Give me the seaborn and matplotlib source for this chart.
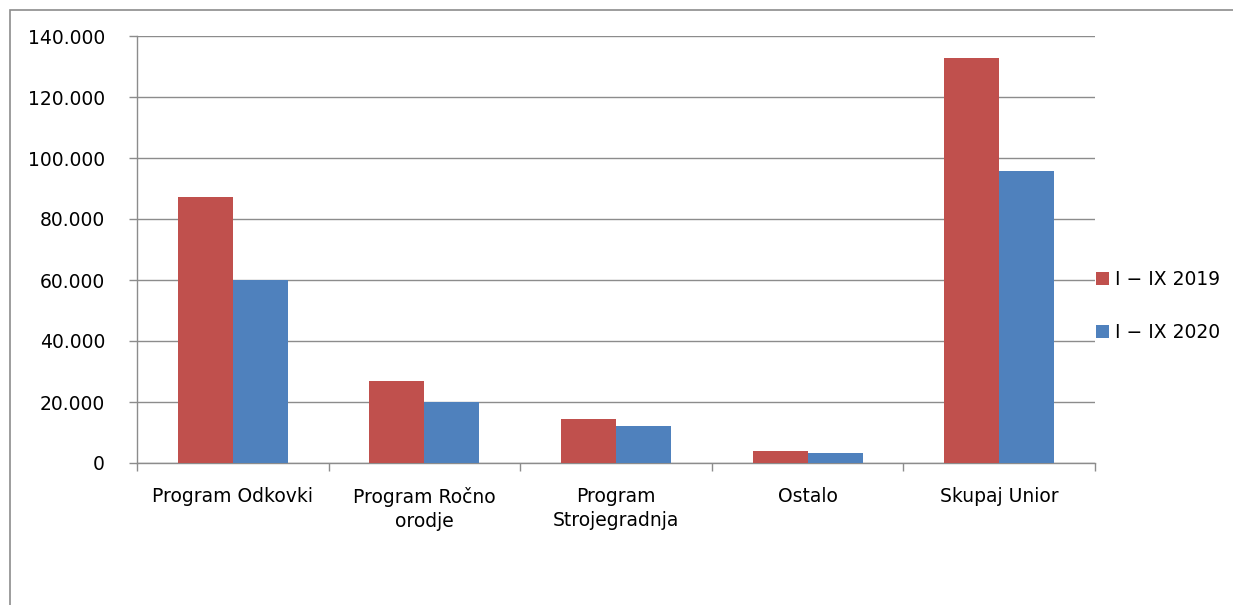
import pandas as pd
import matplotlib.pyplot as plt
import seaborn as sns
from matplotlib.patches import Rectangle
from matplotlib.ticker import FuncFormatter, FixedLocator

# Categories and values
categories = ['Program Odkovki', 'Program Ročno\norodje', 'Program\nStrojegradnja', 'Ostalo', 'Skupaj Unior']
series_names = ['I − IX 2019', 'I − IX 2020']
values_2019 = [87200, 26900, 14400, 3900, 132800]
values_2020 = [60000, 20000, 12100, 3300, 95700]
colors = ['#C0504D', '#4F81BD']

df = pd.DataFrame({
    'Kategorija': categories * 2,
    'Obdobje': [series_names[0]] * 5 + [series_names[1]] * 5,
    'Vrednost': values_2019 + values_2020,
})

sns.set_theme(style='white')
plt.rcParams['font.family'] = ['DejaVu Sans']
plt.rcParams['text.color'] = 'black'

W, H = 1233, 605
fig = plt.figure(figsize=(W / 100, H / 100), dpi=100)
ax = fig.add_axes([137 / W, 1 - 463 / H, (1095 - 137) / W, (463 - 36) / H])

sns.barplot(data=df, x='Kategorija', y='Vrednost', hue='Obdobje', palette=colors,
            width=0.575, saturation=1, ax=ax, zorder=3, linewidth=0)

ax.set_xlabel('')
ax.set_ylabel('')
ax.set_ylim(0, 140000)
ax.set_xlim(-0.5, 4.5)
ax.set_yticks(range(0, 140001, 20000))
ax.yaxis.set_major_formatter(FuncFormatter(lambda v, p: f'{int(v):,}'.replace(',', '.')))
ax.grid(axis='y', color='#8c8c8c', linewidth=1, zorder=0)

for s in ['top', 'right']:
    ax.spines[s].set_visible(False)
for s in ['left', 'bottom']:
    ax.spines[s].set_color('#8c8c8c')
    ax.spines[s].set_linewidth(1)

ax.tick_params(axis='y', direction='out', length=6, width=1, color='#8c8c8c',
               labelsize=13.5, labelcolor='black', pad=17, left=True)
ax.tick_params(axis='x', which='major', length=0, labelsize=13.5, labelcolor='black', pad=17)
for lbl in ax.get_xticklabels():
    lbl.set_linespacing(1.35)
ax.xaxis.set_minor_locator(FixedLocator([-0.5, 0.5, 1.5, 2.5, 3.5, 4.5]))
ax.tick_params(axis='x', which='minor', direction='out', length=6, width=1, color='#8c8c8c', bottom=True)

# legend on the right
handles, labels = ax.get_legend_handles_labels()
leg = ax.legend(handles, labels, loc='center left', bbox_to_anchor=(1088 / W, 1 - 306 / H),
                bbox_transform=fig.transFigure, frameon=False, fontsize=13.5,
                handlelength=0.7, handleheight=0.7, handletextpad=0.35, labelspacing=1.85,
                borderaxespad=0)
for t in leg.get_texts():
    t.set_color('black')

# chart frame
fig.add_artist(Rectangle((10 / W, -0.2), 1.2, 1 - 10 / H + 0.2, transform=fig.transFigure,
                         fill=False, edgecolor='#8c8c8c', linewidth=1.2, clip_on=False))

fig.savefig('out.png', dpi=100)
